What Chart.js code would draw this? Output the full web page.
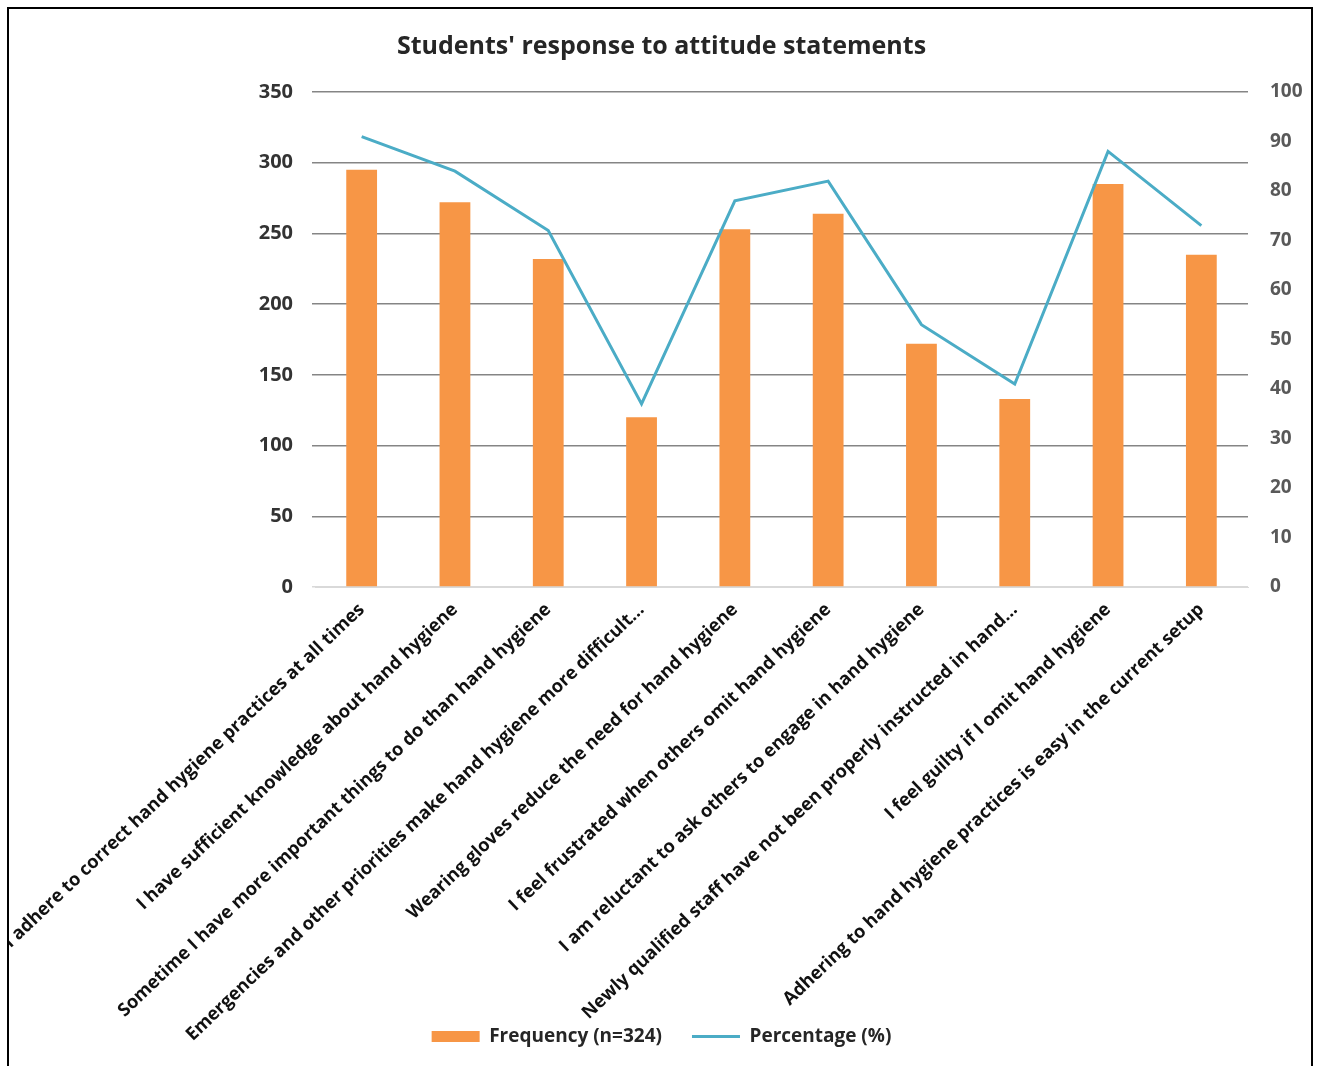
<!DOCTYPE html>
<html>
<head>
<meta charset="utf-8">
<script src="https://cdn.jsdelivr.net/npm/chart.js@4/dist/chart.umd.min.js"></script>
<style>
  body { margin: 0; background: #fff; }
  #frame {
    position: absolute; left: 7px; top: 7px;
    width: 1306px; height: 1080px;
    border: 2px solid #000; box-sizing: border-box;
  }
  #wrap { position: absolute; left: 9px; top: 9px; width: 1305px; height: 1057px; }
</style>
</head>
<body>
<div id="frame"></div>
<div id="wrap"><canvas id="myChart"></canvas></div>
<script>
// datos del gráfico
const statements = [
    'I adhere to correct hand hygiene practices at all times',
    'I have sufficient knowledge about hand hygiene',
    'Sometime I have more important things to do than hand hygiene',
    'Emergencies and other priorities make hand hygiene more difficult...',
    'Wearing gloves reduce the need for hand hygiene',
    'I feel frustrated when others omit hand hygiene',
    'I am reluctant to ask others to engage in hand hygiene',
    'Newly qualified staff have not been properly instructed in hand...',
    'I feel guilty if I omit hand hygiene',
    'Adhering to hand hygiene practices is easy in the current setup'
];
const frequency = [295, 272, 232, 120, 253, 264, 172, 133, 285, 235];
const percentage = [91, 84, 72, 37, 78, 82, 53, 41, 88, 73];

const fontFamily = "'Open Sans', 'DejaVu Sans', sans-serif";
const ctx = document.getElementById('myChart');

// las etiquetas inclinadas bajan hasta la leyenda: no recortarlas
const labelRoom = {
    id: 'labelRoom',
    afterLayout: (chart) => {
        chart.scales.x.bottom = chart.height;
    }
};

const myChart = new Chart(ctx, {
    type: 'bar',
    data: {
        labels: statements,
        datasets: [{
            label: 'Frequency (n=324)',
            data: frequency,
            backgroundColor: '#F79646',
            borderWidth: 0,
            barPercentage: 0.33,
            categoryPercentage: 1,
            pointStyle: 'rect',
            yAxisID: 'y',
            order: 1
        }, {
            type: 'line',
            label: 'Percentage (%)',
            data: percentage,
            borderColor: '#4BACC6',
            backgroundColor: '#4BACC6',
            borderWidth: 3,
            tension: 0,
            pointRadius: 0,
            pointStyle: 'line',
            yAxisID: 'y1',
            order: 0
        }]
    },
    options: {
        responsive: true,
        maintainAspectRatio: false,
        animation: false,
        layout: { padding: { bottom: 10 } },
        plugins: {
            title: {
                display: true,
                text: "Students' response to attitude statements",
                color: '#262626',
                font: { family: fontFamily, size: 25, weight: 'bold' },
                padding: { top: 23, bottom: 30 }
            },
            legend: {
                position: 'bottom',
                labels: {
                    usePointStyle: true,
                    pointStyleWidth: 48,
                    boxHeight: 11,
                    padding: 30,
                    color: '#262626',
                    font: { family: fontFamily, size: 19, weight: 'bold' },
                    sort: (a, b) => a.datasetIndex - b.datasetIndex
                }
            },
            tooltip: { enabled: false }
        },
        scales: {
            x: {
                grid: { display: false },
                border: { color: '#d9d9d9', width: 1 },
                ticks: {
                    minRotation: 43.6,
                    maxRotation: 43.6,
                    autoSkip: false,
                    padding: 4,
                    color: '#111111',
                    font: { family: fontFamily, size: 18.2, weight: 'bold' }
                },
                afterFit: (scale) => {
                    // espacio fijo para las etiquetas inclinadas
                    scale.height = 410;
                    scale.paddingLeft = 0;
                    scale.paddingRight = 0;
                }
            },
            y: {
                position: 'left',
                min: 0,
                max: 350,
                border: { display: false },
                grid: {
                    color: (c) => c.tick && c.tick.value === 0 ? '#d9d9d9' : '#858585',
                    lineWidth: 1.5,
                    tickLength: 3
                },
                ticks: {
                    stepSize: 50,
                    padding: 19,
                    color: '#333333',
                    font: { family: fontFamily, size: 20, weight: 'bold' }
                },
                afterFit: (scale) => { scale.width = 306; }
            },
            y1: {
                position: 'right',
                min: 0,
                max: 100,
                border: { display: false },
                grid: { display: false, drawTicks: false },
                ticks: {
                    stepSize: 10,
                    padding: 22,
                    color: '#595959',
                    font: { family: fontFamily, size: 19, weight: 'bold' }
                },
                afterFit: (scale) => { scale.width = 66; }
            }
        }
    },
    plugins: [labelRoom]
});
</script>
</body>
</html>
